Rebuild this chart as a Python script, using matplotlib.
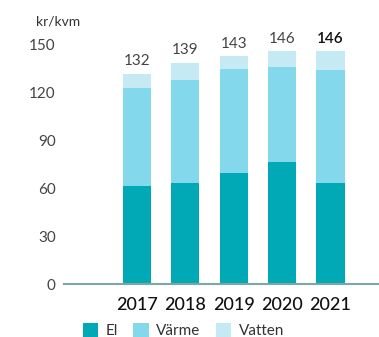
import matplotlib.pyplot as plt
import numpy as np

plt.rcParams["font.family"] = ["Lato", "DejaVu Sans"]

years = ["2017", "2018", "2019", "2020", "2021"]
el = [61.5, 63.5, 69.5, 76.5, 63.5]
varme = [61.5, 64.5, 65.5, 59.5, 70.5]
vatten = [9, 11, 8, 10, 12]
totals = [132, 139, 143, 146, 146]

C_EL = "#00a9b5"
C_VARME = "#84d8ec"
C_VATTEN = "#c5eaf4"

W, H = 379, 337
fig = plt.figure(figsize=(W / 100, H / 100), dpi=100)
ax = fig.add_axes([64 / W, (H - 284) / H, 1 - 64 / W, (284 - 45) / H])

x = np.arange(len(years))
bw = 0.58
ax.bar(x, el, bw, color=C_EL, label="El", zorder=2)
ax.bar(x, varme, bw, bottom=el, color=C_VARME, label="Värme", zorder=2)
bot2 = [a + b for a, b in zip(el, varme)]
ax.bar(x, vatten, bw, bottom=bot2, color=C_VATTEN, label="Vatten", zorder=2)

for i, t in enumerate(totals):
    last = i == len(totals) - 1
    ax.annotate(str(t), (x[i], t), xytext=(0, 4), textcoords="offset points",
                ha="center", va="bottom", fontsize=11,
                color="#111111" if last else "#444444",
                fontweight="semibold" if last else "normal", annotation_clip=False)

ax.set_xlim(-1.5, 5.0)
ax.set_ylim(0, 150)
ax.set_yticks([0, 30, 60, 90, 120, 150])
ax.tick_params(axis="y", length=0, pad=6, labelsize=11, labelcolor="#444444")
ax.set_xticks(x)
ax.set_xticklabels(years, fontsize=13, color="#111111", fontweight="medium")
ax.tick_params(axis="x", length=0, pad=9)

for s in ["top", "right", "left"]:
    ax.spines[s].set_visible(False)
ax.spines["bottom"].set_color("#7fa6a6")
ax.spines["bottom"].set_linewidth(1.5)
ax.spines["bottom"].set_zorder(3)

fig.text(36 / W, 1 - 22 / H, "kr/kvm", fontsize=10, color="#333333", va="center", ha="left")

fig.legend(loc="lower left", bbox_to_anchor=(69 / W, -15 / H), ncol=3, frameon=False,
           fontsize=11, handlelength=1.0, handleheight=1.0, handletextpad=0.5,
           columnspacing=1.0, labelcolor="#333333")

fig.savefig("out.png", dpi=100)
